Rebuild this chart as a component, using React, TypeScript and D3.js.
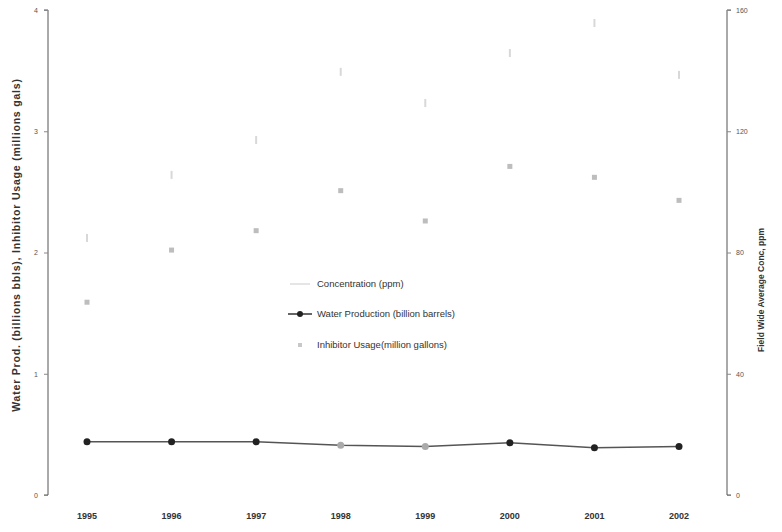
import React, { useEffect, useRef } from "react";
import * as d3 from "d3";

const years = ["1995", "1996", "1997", "1998", "1999", "2000", "2001", "2002"];
const waterProduction = [0.44, 0.44, 0.44, 0.41, 0.40, 0.43, 0.39, 0.40];
const inhibitorUsage = [1.59, 2.02, 2.18, 2.51, 2.26, 2.71, 2.62, 2.43];
const concentration = [84.8, 105.6, 117.1, 139.6, 129.3, 145.8, 155.7, 138.6];
const leftTicks = [0, 1, 2, 3, 4];
const rightTicks = [0, 40, 80, 120, 160];
const legendLabels = [
  "Concentration (ppm)",
  "Water Production (billion barrels)",
  "Inhibitor Usage(million gallons)",
];

const W = 782;
const H = 532;
const LEFT = 48;
const RIGHT = 727;
const TOP = 10;
const BOTTOM = 495;
const FONT = "'Liberation Sans', Arial, sans-serif";

export default function App() {
  const ref = useRef<SVGSVGElement | null>(null);

  useEffect(() => {
    const svg = d3.select(ref.current);
    svg.selectAll("*").remove();

    const x = d3.scalePoint<string>().domain(years).range([87, 679]);
    const yL = d3.scaleLinear().domain([0, 4]).range([BOTTOM, TOP]);
    const yR = d3.scaleLinear().domain([0, 160]).range([BOTTOM, TOP]);

    // left axis
    const gL = svg.append("g").attr("transform", `translate(${LEFT},0)`);
    gL.call(
      d3.axisLeft(yL).tickValues(leftTicks).tickFormat(d3.format("d")).tickSize(4).tickPadding(6)
    );
    gL.select(".domain").attr("stroke", "#555").attr("d", `M-4,${TOP}H0V${BOTTOM}H-4`);
    gL.selectAll(".tick line").attr("stroke", "#888");
    gL.selectAll(".tick text").attr("font-family", FONT).attr("font-size", 7).attr("fill", "#555");

    // right axis
    const gR = svg.append("g").attr("transform", `translate(${RIGHT},0)`);
    gR.call(
      d3.axisRight(yR).tickValues(rightTicks).tickFormat(d3.format("d")).tickSize(4).tickPadding(5)
    );
    gR.select(".domain").attr("stroke", "#555").attr("d", `M4,${TOP}H0V${BOTTOM}H4`);
    gR.selectAll(".tick line").attr("stroke", "#888");
    gR.selectAll(".tick text").attr("font-family", FONT).attr("font-size", 7).attr("fill", "#555");

    // x labels
    svg
      .append("g")
      .selectAll("text")
      .data(years)
      .join("text")
      .attr("x", (d) => x(d)!)
      .attr("y", 519)
      .attr("text-anchor", "middle")
      .attr("font-family", FONT)
      .attr("font-size", 9)
      .attr("font-weight", "bold")
      .attr("fill", "#333")
      .text((d) => d);

    // axis titles
    svg
      .append("text")
      .attr("transform", `translate(20,245) rotate(-90)`)
      .attr("text-anchor", "middle")
      .attr("font-family", FONT)
      .attr("font-size", 10.5)
      .attr("font-weight", "bold")
      .attr("letter-spacing", 0.8)
      .attr("fill", "#333")
      .text("Water Prod. (billions bbls), Inhibitor Usage (millions gals)");

    svg
      .append("text")
      .attr("transform", `translate(764,290) rotate(-90)`)
      .attr("text-anchor", "middle")
      .attr("font-family", FONT)
      .attr("font-size", 8.5)
      .attr("font-weight", "bold")
      .attr("fill", "#333")
      .text("Field Wide Average Conc, ppm");

    // concentration (faint)
    svg
      .append("g")
      .selectAll("rect")
      .data(concentration)
      .join("rect")
      .attr("x", (_, i) => x(years[i])! - 1)
      .attr("y", (d) => yR(d) - 4)
      .attr("width", 2)
      .attr("height", 8)
      .attr("fill", "#d8d8d8");

    // inhibitor usage (faint markers)
    svg
      .append("g")
      .selectAll("rect")
      .data(inhibitorUsage)
      .join("rect")
      .attr("x", (_, i) => x(years[i])! - 2.5)
      .attr("y", (d) => yL(d) - 2.5)
      .attr("width", 5)
      .attr("height", 5)
      .attr("fill", "#bdbdbd");

    // water production
    const line = d3
      .line<number>()
      .x((_, i) => x(years[i])!)
      .y((d) => yL(d));
    svg
      .append("path")
      .datum(waterProduction)
      .attr("d", line)
      .attr("fill", "none")
      .attr("stroke", "#555")
      .attr("stroke-width", 1.5);
    svg
      .append("g")
      .selectAll("circle")
      .data(waterProduction)
      .join("circle")
      .attr("cx", (_, i) => x(years[i])!)
      .attr("cy", (d) => yL(d))
      .attr("r", 3.5)
      .attr("fill", (_, i) => (i === 3 || i === 4 ? "#aaa" : "#222"));

    // legend
    const lg = svg.append("g");
    const rows = [284, 314, 345];
    lg.append("line").attr("x1", 290).attr("x2", 310).attr("y1", rows[0]).attr("y2", rows[0])
      .attr("stroke", "#ddd").attr("stroke-width", 1.5);
    lg.append("line").attr("x1", 288).attr("x2", 312).attr("y1", rows[1]).attr("y2", rows[1])
      .attr("stroke", "#333").attr("stroke-width", 1.5);
    lg.append("circle").attr("cx", 300).attr("cy", rows[1]).attr("r", 3).attr("fill", "#222");
    lg.append("rect").attr("x", 298).attr("y", rows[2] - 2).attr("width", 4).attr("height", 4)
      .attr("fill", "#c8c8c8");
    lg.selectAll("text")
      .data(legendLabels)
      .join("text")
      .attr("x", 317)
      .attr("y", (_, i) => rows[i] + 3)
      .attr("font-family", FONT)
      .attr("font-size", 9.5)
      .attr("fill", "#333")
      .text((d) => d);
  }, []);

  return (
    <svg
      ref={ref}
      width={W}
      height={H}
      style={{ position: "absolute", left: 0, top: 0, background: "#fff" }}
    />
  );
}
